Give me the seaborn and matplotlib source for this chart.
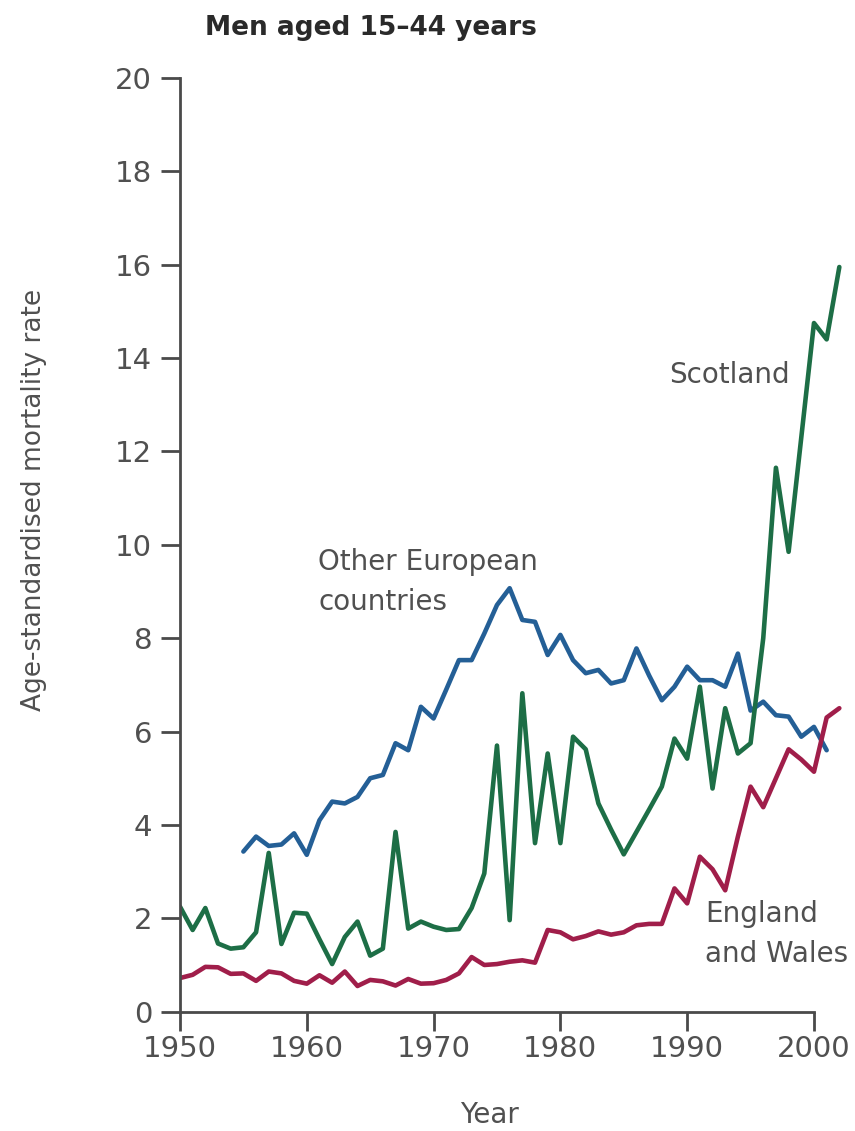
import numpy as np
import pandas as pd
import matplotlib
matplotlib.use("Agg")
import matplotlib.pyplot as plt
import seaborn as sns

# Age-standardised mortality rate, men aged 15-44
scot_years = list(range(1950, 2003))
scotland = [2.25, 1.75, 2.22, 1.46, 1.35, 1.38, 1.70, 3.40, 1.45, 2.12,
            2.10, 1.55, 1.02, 1.60, 1.93, 1.20, 1.35, 3.85, 1.78, 1.93,
            1.82, 1.75, 1.77, 2.22, 2.96, 5.70, 1.96, 6.82, 3.61, 5.53,
            3.61, 5.89, 5.62, 4.46, 3.90, 3.37, 3.85, 4.33, 4.82, 5.85,
            5.42, 6.96, 4.78, 6.50, 5.53, 5.75, 8.00, 11.65, 9.85, 12.30,
            14.75, 14.40, 15.95]

ew_years = list(range(1950, 2003))
england_wales = [0.72, 0.79, 0.96, 0.95, 0.81, 0.82, 0.66, 0.86, 0.82, 0.66,
                 0.60, 0.78, 0.62, 0.86, 0.55, 0.68, 0.65, 0.56, 0.70, 0.60,
                 0.61, 0.68, 0.82, 1.17, 1.00, 1.02, 1.07, 1.10, 1.05, 1.75,
                 1.70, 1.55, 1.62, 1.72, 1.65, 1.70, 1.85, 1.88, 1.88, 2.64,
                 2.32, 3.32, 3.05, 2.60, 3.75, 4.82, 4.38, 5.00, 5.62, 5.40,
                 5.14, 6.30, 6.50]

eu_years = list(range(1955, 2002))
other_europe = [3.43, 3.75, 3.55, 3.58, 3.82, 3.36, 4.10, 4.50, 4.46, 4.60,
                5.00, 5.07, 5.75, 5.60, 6.53, 6.28, 6.90, 7.53, 7.53, 8.10,
                8.71, 9.07, 8.39, 8.35, 7.64, 8.07, 7.53, 7.25, 7.32, 7.03,
                7.10, 7.78, 7.20, 6.67, 6.96, 7.39, 7.10, 7.10, 6.96, 7.67,
                6.45, 6.64, 6.35, 6.32, 5.89, 6.10, 5.60]

series_names = ["Other European countries", "Scotland", "England and Wales"]
series_colors = ["#245f96", "#1d6e46", "#a01e4a"]

df = pd.concat([
    pd.DataFrame({"Year": eu_years, "Rate": other_europe, "Series": series_names[0]}),
    pd.DataFrame({"Year": scot_years, "Rate": scotland, "Series": series_names[1]}),
    pd.DataFrame({"Year": ew_years, "Rate": england_wales, "Series": series_names[2]}),
], ignore_index=True)

sns.set_style("ticks")
plt.rcParams["font.family"] = ["DejaVu Sans"]

grey = "#505050"
axis_grey = "#4a4a4a"

fig = plt.figure(figsize=(8.55, 11.31), dpi=100)
ax = fig.add_axes([0.2105, 0.1055, 0.786, 0.8256])

sns.lineplot(data=df, x="Year", y="Rate", hue="Series", hue_order=series_names,
             palette=dict(zip(series_names, series_colors)), linewidth=3.3,
             ax=ax, legend=False, estimator=None, sort=True)

ax.set_xlim(1950, 2003)
ax.set_ylim(0, 20)
ax.set_xticks(range(1950, 2001, 10))
ax.set_yticks(range(0, 21, 2))
ax.set_xlabel("")
ax.set_ylabel("")

for side in ["top", "right"]:
    ax.spines[side].set_visible(False)
ax.spines["bottom"].set_bounds(1950, 2000)
ax.spines["left"].set_bounds(0, 20)
for side in ["bottom", "left"]:
    ax.spines[side].set_color(axis_grey)
    ax.spines[side].set_linewidth(2.0)

ax.tick_params(axis="both", direction="out", length=14, width=2.0,
               color=axis_grey, labelcolor=grey, labelsize=21)
ax.tick_params(axis="y", pad=6)
ax.tick_params(axis="x", pad=3)

# Series labels
ax.text(1988.6, 13.63, "Scotland", fontsize=20, color=grey, ha="left", va="center")
ax.text(1960.9, 9.21, "Other European\ncountries", fontsize=20, color=grey,
        ha="left", va="center", linespacing=1.55)
ax.text(1991.4, 1.67, "England\nand Wales", fontsize=20, color=grey,
        ha="left", va="center", linespacing=1.55)

fig.text(0.24, 0.975, "Men aged 15–44 years", fontsize=19, fontweight="bold",
         color="#2a2a2a", ha="left", va="center")
fig.text(0.04, 0.558, "Age-standardised mortality rate", fontsize=19, color=grey,
         rotation=90, ha="center", va="center")
fig.text(0.573, 0.014, "Year", fontsize=20, color=grey, ha="center", va="center")

fig.savefig("out.png", dpi=100)
